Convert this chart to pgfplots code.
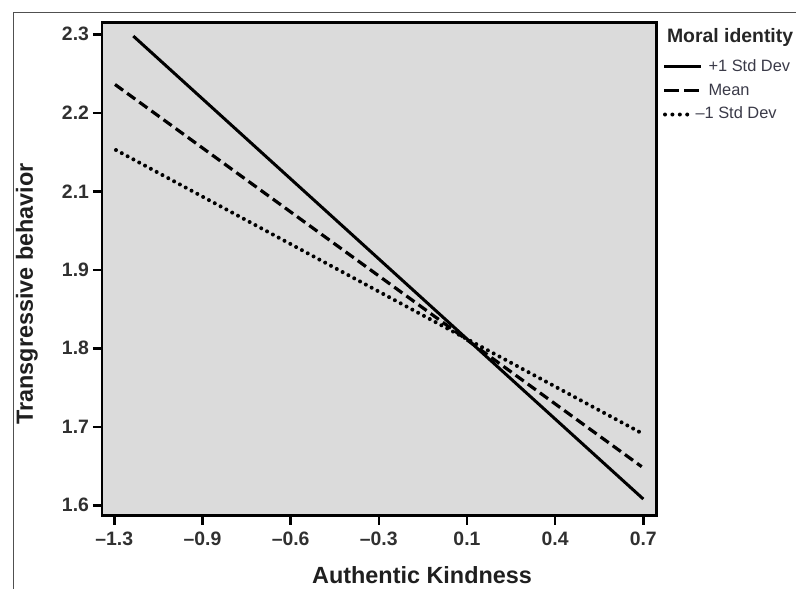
\documentclass[border=0pt]{standalone}
\usepackage{fontspec}
\setmainfont{Liberation Sans}
\usepackage{pgfplots}
\pgfplotsset{compat=1.18}
\definecolor{bggray}{HTML}{DBDBDB}
\definecolor{ticktext}{HTML}{303030}
\definecolor{legtext}{HTML}{3A3A48}
\definecolor{framegray}{HTML}{505050}

% x: tick index 0..6 (labels -1.3 ... 0.7), y: tick index 0..6 (labels 1.6 ... 2.3)
\pgfplotstableread{
x y
0.2155 5.978
6.000 0.080
}\plusone
\pgfplotstableread{
x y
0.008 5.361
5.982 0.492
}\meanline
\pgfplotstableread{
x y
0.019 4.526
6.000 0.908
}\minusone

\begin{document}
\begin{tikzpicture}
\path[use as bounding box] (0,0) rectangle (398pt,-294pt);
\draw[framegray, line width=0.65pt] (6.65pt,-300pt) -- (6.65pt,-6.15pt) -- (405pt,-6.15pt);

\begin{axis}[
    at={(51pt,-11.35pt)}, anchor=north west,
    scale only axis,
    width=277.35pt, height=246.4pt,
    xmin=-0.1395, xmax=6.152,
    ymin=-0.13, ymax=6.148,
    axis background/.style={fill=bggray},
    axis line style={line width=1.3pt, black},
    tick align=outside,
    major tick length=4.5pt,
    major tick style={line width=1.3pt, black},
    xtick={0,...,6},
    xticklabels={–1.3,–0.9,–0.6,–0.3,0.1,0.4,0.7},
    ytick={0,...,6},
    yticklabels={1.6,1.7,1.8,1.9,2.1,2.2,2.3},
    xtick pos=bottom, ytick pos=left,
    ticklabel style={font=\bfseries\fontsize{9.7}{11}\selectfont, text=ticktext},
    yticklabel style={xshift=1.5pt},
    xlabel={Authentic Kindness},
    ylabel={Transgressive behavior},
    label style={font=\bfseries\fontsize{11.7}{13}\selectfont, text=black!88},
    x label style={at={(axis description cs:0.577,-0.137)}, anchor=base},
    y label style={at={(axis description cs:-0.1244,0.4495)}, anchor=base},
    legend style={at={(axis description cs:1.0096,0.9267)}, anchor=north west,
        draw=none, fill=none, inner sep=0pt,
        font=\fontsize{8.2}{10}\selectfont, text=legtext,
        nodes={inner xsep=0pt, inner ysep=0pt, text height=6pt, text depth=1.7pt},
        row sep=4.2pt,
        /tikz/every odd column/.append style={column sep=3pt}},
    legend cell align=left,
    legend image code/.code={\draw[#1] (0pt,0pt) -- (18.5pt,0pt);},
]
\addplot[black, line width=1.5pt, no markers] table {\plusone};
\addlegendentry{+1 Std Dev}
\addplot[black, line width=1.6pt, no markers, dash pattern=on 5pt off 2.5pt,
    legend image code/.code={\draw[black, line width=1.6pt, dash pattern=on 7.5pt off 2.5pt] (0pt,0pt) -- (17.5pt,0pt);}] table {\meanline};
\addlegendentry{Mean}
\addplot[black, line width=2pt, no markers, line cap=round, dash pattern=on 0pt off 3.3pt,
    legend image code/.code={\draw[black, line width=2pt, line cap=round, dash pattern=on 0pt off 3.7pt] (0.5pt,0pt) -- (12pt,0pt);}] table {\minusone};
\addlegendentry{\hspace*{-6.5pt}–1 Std Dev}
\end{axis}

\node[anchor=base west, inner sep=0pt, font=\bfseries\fontsize{9.7}{11}\selectfont, text=black!85] at (333.3pt,-21.5pt) {Moral identity};
\end{tikzpicture}
\end{document}
